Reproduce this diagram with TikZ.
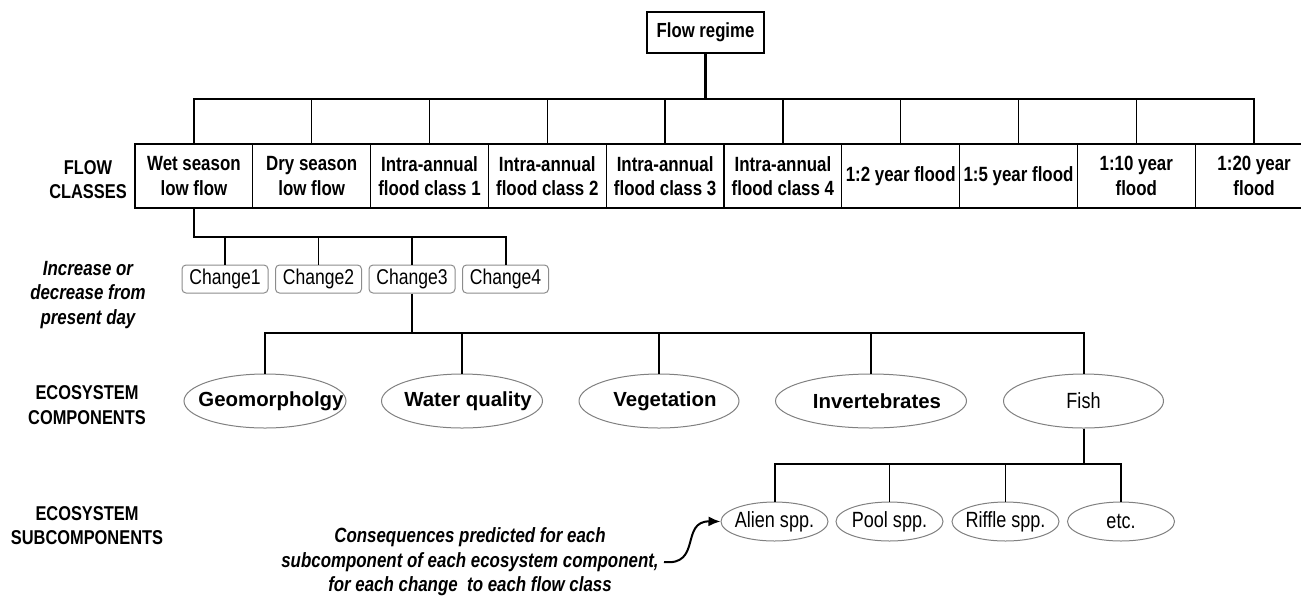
\documentclass[tikz,border=0pt]{standalone}
\usepackage{fontspec}
\setmainfont{Liberation Sans}[FakeStretch=0.82]
\newfontfamily\widefont{Liberation Sans}
\usetikzlibrary{shapes.geometric,arrows.meta}

\begin{document}
\begin{tikzpicture}[x=0.5pt,y=-0.5pt,
	every node/.style={inner sep=0pt,font=\fontsize{10.3}{12.25}\selectfont},
	regimebox/.style={draw,line width=0.9pt,minimum width=58.5pt,minimum height=20.5pt,font=\fontsize{10.2}{12.25}\selectfont\bfseries},
	classbox/.style={draw,line width=0.65pt,minimum width=58.9pt,minimum height=32pt,align=center,font=\fontsize{10.3}{12.25}\selectfont\bfseries},
	changebox/.style={draw=black!45,line width=0.5pt,rounded corners=2pt,minimum width=43pt,minimum height=14pt,font=\fontsize{10.7}{12}\selectfont},
	comp/.style={draw=black!50,ellipse,line width=0.5pt,minimum width=80.5pt,minimum height=27pt},
	complabel/.style={font=\widefont\fontsize{10.2}{12}\selectfont\bfseries,xshift=3pt},
	subcomp/.style={draw=black!50,ellipse,line width=0.5pt,minimum width=53.5pt,minimum height=19.5pt},
	sublabel/.style={font=\fontsize{11}{12}\selectfont},
	sidelabel/.style={align=center,font=\fontsize{10}{12.25}\selectfont\bfseries},
	notelabel/.style={align=center,font=\fontsize{10.3}{12.25}\selectfont\bfseries\itshape},
	trunk/.style={line width=1.4pt},
	busline/.style={line width=1pt},
	dropline/.style={line width=0.7pt}]
	\useasboundingbox (0,0) rectangle (1301,596);
	\node[regimebox] (regime) at (705.5,32.5) {Flow regime};
	\foreach \txt [count=\i] in {{Wet season\\low flow},{Dry season\\low flow},{Intra-annual\\flood class 1},{Intra-annual\\flood class 2},{Intra-annual\\flood class 3},{Intra-annual\\flood class 4},{1:2 year flood},{1:5 year flood},{1:10 year\\flood},{1:20 year\\flood}}
		\node[classbox] (c\i) at ({135+117.8*(\i-0.5)},176) {\txt};
	\foreach \i in {1,...,4}
		\node[changebox] (ch\i) at ({225+93.5*(\i-1)},279) {Change\i};
	\node[comp,minimum width=81pt,label={[complabel]center:Geomorpholgy}] (geo) at (265,401) {};
	\node[comp,label={[complabel]center:Water quality}] (wat) at (462,401) {};
	\node[comp,minimum width=80pt,label={[complabel]center:Vegetation}] (veg) at (659,401) {};
	\node[comp,minimum width=95.5pt,label={[complabel]center:Invertebrates}] (inv) at (871,401) {};
	\node[comp,minimum width=80pt,label={[sublabel]center:Fish}] (fish) at (1083.5,401) {};
	\node[subcomp,label={[sublabel]center:Alien spp.}] (alien) at (774.5,521.5) {};
	\node[subcomp,label={[sublabel]center:Pool spp.}] (pool) at (889.5,521.5) {};
	\node[subcomp,label={[sublabel]center:Riffle spp.}] (riffle) at (1005.5,521.5) {};
	\node[subcomp,label={[sublabel]center:etc.}] (etc) at (1121,521.5) {};
	\node[sidelabel] (flowlbl) at (88,179.5) {FLOW\\CLASSES};
	\node[notelabel] (changelbl) at (88,295) {Increase or\\decrease from\\present day};
	\node[sidelabel] (complbl) at (87,405) {ECOSYSTEM\\COMPONENTS};
	\node[sidelabel] (sublbl) at (87,525.5) {ECOSYSTEM\\SUBCOMPONENTS};
	\node[notelabel] (note) at (470,562) {Consequences predicted for each\\subcomponent of each ecosystem component,\\for each change~ to each flow class};
	\coordinate (fbus) at (0,99);
	\coordinate (cbus) at (0,237);
	\coordinate (ebus) at (0,333);
	\coordinate (sbus) at (0,464);
	\coordinate (notetip) at (664,562);
	\draw[trunk] (regime.south) -- (regime.south |- fbus);
	\draw[busline] (c1.north) -- (c1.north |- fbus) -| (c10.north);
	\foreach \i in {2,...,9}
		\draw[dropline] (c\i.north) -- (c\i.north |- fbus);
	\draw[busline] (c1.south) -- (c1.south |- cbus) -| (ch4.north);
	\foreach \i in {1,...,3}
		\draw[dropline] (ch\i.north) -- (ch\i.north |- cbus);
	\draw[trunk] (ch3.south) -- (ch3.south |- ebus);
	\draw[busline] (geo.north) -- (geo.north |- ebus) -| (fish.north);
	\foreach \n in {wat,veg,inv}
		\draw[dropline] (\n.north) -- (\n.north |- ebus);
	\draw[busline] (fish.south) -- (fish.south |- sbus);
	\draw[busline] (alien.north) -- (alien.north |- sbus) -| (etc.north);
	\foreach \n in {pool,riffle}
		\draw[dropline] (\n.north) -- (\n.north |- sbus);
	\draw[line width=1pt,-{Latex[length=6pt,width=5pt]}] (notetip) .. controls (702,566) and (680,521) .. (alien.west);
\end{tikzpicture}
\end{document}
